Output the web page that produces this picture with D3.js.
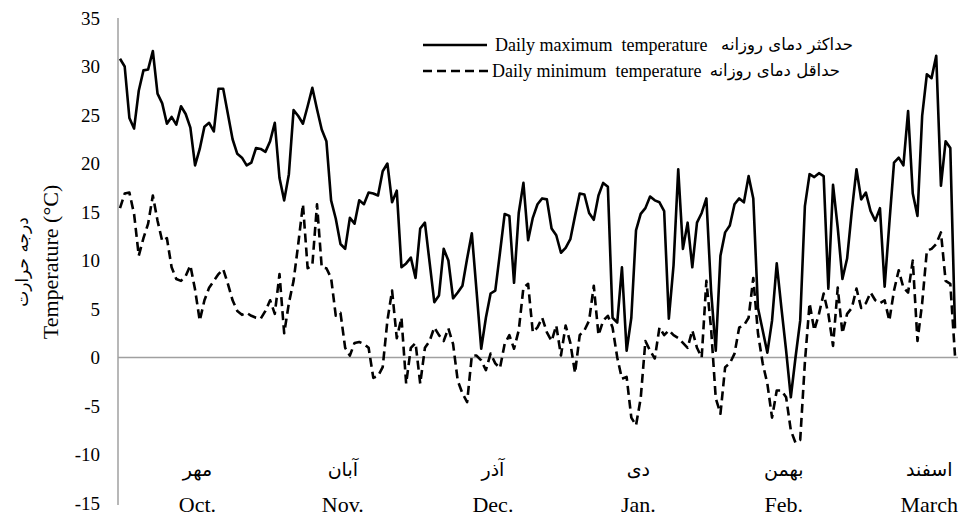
<!DOCTYPE html>
<html>
<head>
<meta charset="utf-8">
<title>Daily temperature</title>
<style>
    body { margin: 0; background: #fff; }
    text { font-family: 'Liberation Serif', 'Times New Roman', serif; fill: #000; }
    .fa { font-family: 'DejaVu Sans', sans-serif; }
    .axis-line { stroke: #a0a0a0; stroke-width: 1.5px; fill: none; }
    .line { fill: none; stroke: #000; stroke-width: 2.6px; stroke-linejoin: round; }
    .line.min { stroke-dasharray: 9,5; }
</style>
<script src="https://cdnjs.cloudflare.com/ajax/libs/d3/7.8.5/d3.min.js"></script>
</head>
<body>
<script>
// daily max / min temperature, Mehr 1 .. end of Esfand (179 days)
var tmax = [30.8, 30.0, 24.7, 23.6, 27.5, 29.6, 29.7, 31.6, 27.2, 26.2,
    24.1, 24.8, 24.0, 25.9, 25.1, 23.7, 19.8, 21.5, 23.8, 24.2,
    23.3, 27.7, 27.7, 25.1, 22.5, 21.0, 20.6, 19.8, 20.1, 21.6,
    21.5, 21.2, 22.3, 24.2, 18.5, 16.2, 18.9, 25.5, 24.9, 24.1,
    25.9, 27.8, 25.6, 23.5, 22.3, 16.2, 14.3, 11.7, 11.2, 14.4,
    13.8, 16.2, 15.8, 17.0, 16.9, 16.7, 19.2, 20.0, 16.0, 17.2,
    9.3, 9.7, 10.3, 8.2, 13.3, 13.9, 9.8, 5.7, 6.4, 11.2,
    10.0, 6.1, 6.7, 7.4, 10.2, 12.8, 6.9, 0.9, 4.1, 6.6,
    6.9, 10.8, 14.8, 14.6, 7.7, 14.9, 18.0, 12.1, 14.4, 15.8,
    16.4, 16.3, 13.3, 12.6, 10.8, 11.3, 12.2, 14.6, 16.9, 16.8,
    14.9, 14.2, 16.7, 18.0, 17.6, 4.1, 3.6, 9.3, 0.7, 4.1,
    13.1, 14.8, 15.4, 16.6, 16.2, 16.0, 15.1, 4.0, 9.5, 19.4,
    11.2, 13.9, 9.3, 13.9, 14.9, 16.4, 6.9, 0.7, 10.5, 12.9,
    13.6, 15.8, 16.4, 16.0, 18.7, 16.4, 5.1, 2.8, 0.5, 3.8,
    9.7, 5.1, 0.7, -4.1, 0.0, 3.8, 15.6, 18.9, 18.6, 19.0,
    18.7, 7.1, 17.8, 13.4, 8.1, 10.2, 15.1, 19.4, 16.3, 17.0,
    15.1, 14.1, 15.4, 7.3, 13.8, 20.1, 20.6, 19.8, 25.4, 16.9,
    14.6, 24.9, 29.2, 28.8, 31.1, 17.7, 22.3, 21.6, 3.0];

var tmin = [15.4, 16.9, 17.0, 14.8, 10.5, 12.3, 13.8, 16.7, 14.1, 12.0,
    12.3, 9.3, 8.1, 7.9, 8.4, 9.5, 7.0, 3.8, 5.9, 7.2,
    7.9, 8.6, 9.1, 7.6, 5.9, 4.8, 4.4, 4.6, 4.3, 4.1,
    4.0, 4.8, 5.9, 4.5, 8.6, 2.5, 5.6, 7.9, 11.7, 15.8,
    9.2, 9.5, 15.8, 9.3, 9.2, 8.2, 4.3, 4.6, 1.0, 0.2,
    1.5, 1.6, 1.4, 1.0, -2.1, -1.9, -1.0, 3.8, 6.9, 2.0,
    4.1, -2.7, 1.0, 1.5, -2.7, 1.0, 1.7, 3.1, 2.3, 1.7,
    3.0, 1.4, -2.4, -3.7, -4.6, 0.2, 0.2, -0.3, -1.3, 0.4,
    -0.6, -1.1, 1.4, 2.3, 0.9, 2.8, 7.2, 7.6, 2.6, 3.1,
    4.1, 2.6, 1.7, 3.3, 0.2, 3.3, 1.5, -1.6, 2.3, 2.8,
    3.8, 7.4, 2.3, 3.8, 4.3, 3.1, 0.0, -2.2, -2.0, -6.2,
    -7.0, -4.2, 1.7, 0.7, -0.1, 3.1, 2.3, 2.8, 2.3, 2.0,
    1.5, 1.0, 2.8, 1.0, 0.0, 7.9, 3.0, -4.2, -5.8, -1.0,
    -0.6, 0.4, 3.1, 3.3, 4.1, 8.2, 2.5, -0.6, -2.7, -6.2,
    -3.4, -3.4, -4.1, -7.5, -8.8, -8.5, -0.5, 5.6, 2.8, 4.5,
    6.6, 4.5, 1.2, 7.2, 2.5, 4.5, 5.1, 7.1, 5.1, 5.6,
    6.7, 5.9, 5.6, 5.9, 3.8, 6.9, 9.0, 7.2, 6.7, 10.0,
    1.7, 5.6, 11.0, 11.2, 11.7, 12.9, 7.9, 7.6, 0.2];

var yTicks = [-15, -10, -5, 0, 5, 10, 15, 20, 25, 30, 35];
var monthsEn = ["Oct.", "Nov.", "Dec.", "Jan.", "Feb.", "March"];
var monthsFa = ["مهر", "آبان", "آذر", "دی", "بهمن", "اسفند"];
var monthPos = [16.5, 47.5, 79.5, 110.5, 141.5, 172.5]; // day index under each label

var W = 961, H = 517;
var margin = { top: 18, right: 6, bottom: 14, left: 118 };

var svg = d3.select("body").append("svg")
    .attr("width", W)
    .attr("height", H);

var x = d3.scaleLinear().domain([0, tmax.length - 1]).range([120, 955]);
var y = d3.scaleLinear().domain([-15, 35]).range([503, 18]);

// left axis + zero line
svg.append("line").attr("class", "axis-line")
    .attr("x1", margin.left).attr("x2", margin.left)
    .attr("y1", y(35)).attr("y2", y(-15) + 2);
svg.append("line").attr("class", "axis-line")
    .attr("x1", margin.left).attr("x2", 958)
    .attr("y1", y(0)).attr("y2", y(0));

svg.append("g").selectAll("text")
    .data(yTicks)
    .enter().append("text")
    .attr("x", 100)
    .attr("y", function (d) { return y(d); })
    .attr("dy", "0.35em")
    .attr("text-anchor", "end")
    .style("font-size", "19px")
    .text(function (d) { return d; });

// axis titles
svg.append("text")
    .attr("transform", "translate(58,262) rotate(-90)")
    .attr("text-anchor", "middle")
    .style("font-size", "22px")
    .text("Temperature (°C)");
svg.append("text")
    .attr("class", "fa")
    .attr("transform", "translate(28,262) rotate(-90)")
    .attr("text-anchor", "middle")
    .style("font-size", "17px")
    .text("درجه حرارت");

// month labels
svg.append("g").selectAll("text")
    .data(monthsFa)
    .enter().append("text")
    .attr("class", "fa")
    .attr("x", function (d, i) { return x(monthPos[i]); })
    .attr("y", 476)
    .attr("text-anchor", "middle")
    .style("font-size", "19px")
    .text(function (d) { return d; });
svg.append("g").selectAll("text")
    .data(monthsEn)
    .enter().append("text")
    .attr("x", function (d, i) { return x(monthPos[i]); })
    .attr("y", 512)
    .attr("text-anchor", "middle")
    .style("font-size", "22px")
    .text(function (d) { return d; });

// series
var line = d3.line()
    .x(function (d, i) { return x(i); })
    .y(function (d) { return y(d); });

svg.append("path").datum(tmin).attr("class", "line min").attr("d", line);
svg.append("path").datum(tmax).attr("class", "line max").attr("d", line);

// legend
var legend = [
    { cls: "line max", en: "Daily maximum\u00a0 temperature", fa: "حداکثر دمای روزانه", y: 45, x2: 487, tx: 495, fx: 853 },
    { cls: "line min", en: "Daily minimum\u00a0 temperature", fa: "حداقل دمای روزانه", y: 71, x2: 490, tx: 492, fx: 840 }
];
var lg = svg.append("g").selectAll("g").data(legend).enter().append("g");
lg.append("line")
    .attr("class", function (d) { return d.cls; })
    .attr("x1", 423).attr("x2", function (d) { return d.x2; })
    .attr("y1", function (d) { return d.y; }).attr("y2", function (d) { return d.y; });
lg.append("text")
    .attr("x", function (d) { return d.tx; })
    .attr("y", function (d) { return d.y + 6; })
    .style("font-size", "18px")
    .text(function (d) { return d.en; });
lg.append("text")
    .attr("class", "fa")
    .attr("x", function (d) { return d.fx; })
    .attr("y", function (d) { return d.y + 5; })
    .attr("text-anchor", "end")
    .style("font-size", "16.5px")
    .text(function (d) { return d.fa; });
</script>
</body>
</html>
